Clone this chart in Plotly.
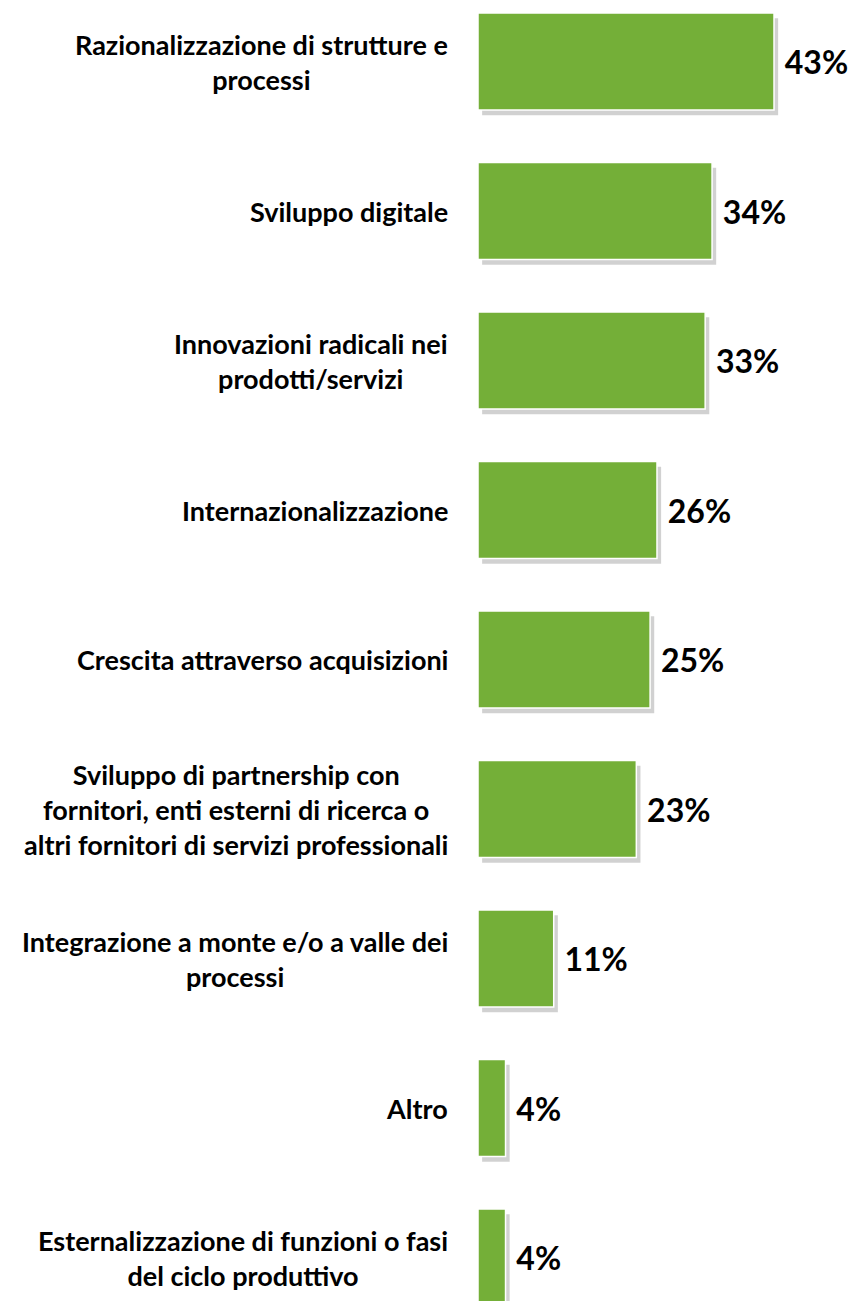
import plotly.graph_objects as go

categories = [
    "Razionalizzazione di strutture e<br>processi",
    "Sviluppo digitale",
    "Innovazioni radicali nei<br>prodotti/servizi",
    "Internazionalizzazione",
    "Crescita attraverso acquisizioni",
    "Sviluppo di partnership con<br>fornitori, enti esterni di ricerca o<br>altri fornitori di servizi professionali",
    "Integrazione a monte e/o a valle dei<br>processi",
    "Altro",
    "Esternalizzazione di funzioni o fasi<br>del ciclo produttivo",
]
values = [43, 34, 33, 26, 25, 23, 11, 4, 4]
value_labels = ["43%", "34%", "33%", "26%", "25%", "23%", "11%", "4%", "4%"]

ids = list(range(len(categories)))
BAR_W = 0.649

fig = go.Figure()

# soft shadow behind bars
fig.add_trace(go.Bar(
    y=ids, x=values, base=0.6, orientation="h",
    width=BAR_W, offset=-BAR_W / 2 + 0.035,
    marker=dict(color="rgba(0,0,0,0.18)", line=dict(width=0)),
    hoverinfo="skip", showlegend=False,
))

# main bars
fig.add_trace(go.Bar(
    y=ids, x=values, orientation="h",
    width=BAR_W, offset=-BAR_W / 2,
    marker=dict(color="#74af38", line=dict(color="white", width=1.5)),
    text=value_labels, texttemplate=" %{text}", textposition="outside",
    textfont=dict(family="Lato", size=32, color="black", weight=700),
    cliponaxis=False, showlegend=False,
))

for i, c in zip(ids, categories):
    fig.add_annotation(
        x=0, xref="paper", y=i, yref="y",
        text=c, showarrow=False, xanchor="right", yanchor="middle",
        xshift=-28, align="center",
        font=dict(family="Lato", size=27, color="black", weight=700),
    )

fig.update_layout(
    width=850, height=1293,
    margin=dict(l=470, r=0, t=0, b=0),
    plot_bgcolor="white", paper_bgcolor="white",
    barmode="overlay",
    xaxis=dict(range=[0, 55.2], visible=False),
    yaxis=dict(range=[8.291, -0.358], visible=False),
)

fig.write_html("out.html")
